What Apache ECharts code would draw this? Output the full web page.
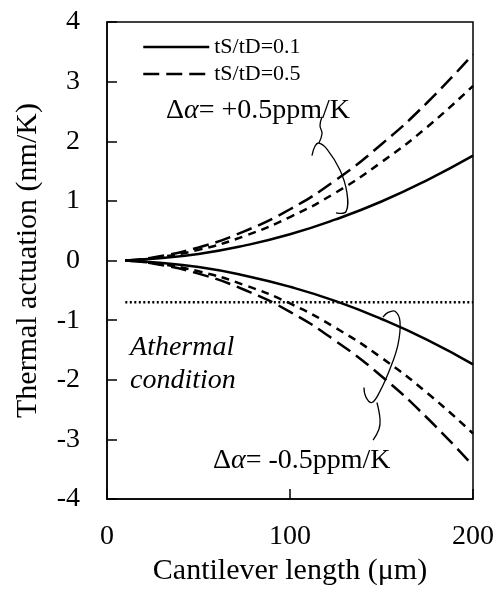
<!DOCTYPE html>
<html>
<head>
<meta charset="utf-8">
<script src="https://cdn.jsdelivr.net/npm/echarts@6/dist/echarts.min.js"></script>
<style>
  html, body { margin: 0; padding: 0; background: #fff; }
  #main { width: 502px; height: 591px; }
</style>
</head>
<body>
<div id="main"></div>
<script>
  // cantilever length (um)
  var lengths = [10, 25, 50, 75, 100, 125, 150, 175, 200];
  // +0.5 ppm/K
  var posThin = [0, 0.03, 0.11, 0.25, 0.44, 0.69, 0.99, 1.35, 1.76];
  var posThick = [0, 0.05, 0.22, 0.49, 0.86, 1.35, 1.95, 2.65, 3.46];
  var posMid = [0, 0.04, 0.18, 0.41, 0.73, 1.14, 1.65, 2.24, 2.93];
  // -0.5 ppm/K
  var negThin = [0, -0.03, -0.11, -0.25, -0.44, -0.68, -0.98, -1.33, -1.74];
  var negThick = [0, -0.05, -0.22, -0.49, -0.86, -1.35, -1.94, -2.64, -3.44];
  var negMid = [0, -0.04, -0.18, -0.41, -0.72, -1.13, -1.63, -2.22, -2.90];
  // athermal condition level
  var athermal = -0.7;
  var athermalRange = [10, 200];

  var serif = "'Liberation Serif', 'Times New Roman', serif";

  function pairs(ys) {
    return lengths.map(function (x, i) { return [x, ys[i]]; });
  }

  function curve(name, ys, dash) {
    return {
      name: name,
      type: 'line',
      data: pairs(ys),
      smooth: true,
      symbol: 'none',
      silent: true,
      lineStyle: { color: '#000', width: 2.5, type: dash },
      itemStyle: { color: '#000' }
    };
  }

  var myChart = echarts.init(document.getElementById('main'));
  var option = {
    animation: false,
    grid: {
      left: 107, right: 29, top: 22, bottom: 91,
      show: true, borderColor: '#000', borderWidth: 1.5
    },
    legend: {
      data: ['tS/tD=0.1', 'tS/tD=0.5'],
      orient: 'vertical',
      left: 137, top: 31,
      itemWidth: 66, itemHeight: 14, itemGap: 5,
      selectedMode: false,
      itemStyle: { opacity: 0 },
      lineStyle: { width: 2.5 },
      textStyle: { fontFamily: serif, fontSize: 22, color: '#000' }
    },
    xAxis: {
      type: 'value', min: 0, max: 200, interval: 100,
      name: 'Cantilever length (μm)',
      nameLocation: 'middle', nameGap: 56,
      nameTextStyle: { fontFamily: serif, fontSize: 30, color: '#000' },
      axisLine: { onZero: false, lineStyle: { color: '#000', width: 1.5 } },
      axisTick: { inside: true, length: 10, lineStyle: { color: '#000', width: 1.5 } },
      axisLabel: { fontFamily: serif, fontSize: 28, color: '#000', margin: 24 },
      splitLine: { show: false }
    },
    yAxis: {
      type: 'value', min: -4, max: 4, interval: 1,
      name: 'Thermal actuation (nm/K)',
      nameLocation: 'middle', nameGap: 64,
      nameTextStyle: { fontFamily: serif, fontSize: 30, color: '#000' },
      axisLine: { onZero: false, lineStyle: { color: '#000', width: 1.5 } },
      axisTick: { inside: true, length: 10, lineStyle: { color: '#000', width: 1.5 } },
      axisLabel: { fontFamily: serif, fontSize: 28, color: '#000', margin: 27 },
      splitLine: { show: false }
    },
    series: [
      curve('tS/tD=0.1', posThin, 'solid'),
      curve('tS/tD=0.5', posThick, [16, 7]),
      curve('mid', posMid, [8, 6]),
      curve('tS/tD=0.1', negThin, 'solid'),
      curve('tS/tD=0.5', negThick, [16, 7]),
      curve('mid', negMid, [8, 6]),
      {
        name: 'athermal',
        type: 'line',
        data: athermalRange.map(function (x) { return [x, athermal]; }),
        symbol: 'none',
        silent: true,
        lineStyle: { color: '#000', width: 2.5, type: [2, 2.5] }
      }
    ]
  };
  myChart.setOption(option);

  // hand-drawn bracket loops, in data coordinates
  var loopUp = [[112.0, 1.76], [113.7, 1.92], [115.8, 1.97], [120.2, 1.87], [127.3, 1.52],
                [131.1, 1.14], [130.6, 0.82], [125.1, 0.80]];
  var stemUp = [[115.8, 1.97], [117.5, 2.13], [116.4, 2.26], [117.5, 2.41]];
  var loopDown = [[150.8, -0.95], [153.6, -0.87], [157.4, -0.85], [160.1, -1.02], [159.0, -1.41],
                  [154.6, -1.82], [149.2, -2.19], [144.8, -2.38], [141.5, -2.29], [140.4, -2.13]];
  var stemDown = [[147.5, -2.38], [149.2, -2.66], [148.6, -2.83], [145.4, -3.01]];

  function px(p) { return myChart.convertToPixel({ gridIndex: 0 }, p); }

  function stroke(points) {
    return {
      type: 'polyline',
      shape: { points: points.map(px), smooth: 0.4 },
      style: { stroke: '#000', lineWidth: 1.3, fill: null },
      silent: true
    };
  }

  function label(pos, rich, text, align) {
    var p = px(pos);
    return {
      type: 'text',
      x: p[0], y: p[1],
      style: {
        text: text,
        fontFamily: serif,
        fontSize: 28,
        fill: '#000',
        align: align || 'left',
        verticalAlign: 'middle',
        rich: rich
      },
      silent: true
    };
  }

  var richDelta = {
    d: { fontFamily: serif, fontSize: 28, fill: '#000' },
    a: { fontFamily: serif, fontSize: 28, fontStyle: 'italic', fill: '#000' }
  };

  myChart.setOption({
    graphic: [
      stroke(loopUp),
      stroke(stemUp),
      stroke(loopDown),
      stroke(stemDown),
      label([32.2, 2.52], richDelta, '{d|Δ}{a|α}{d|= +0.5ppm/K}'),
      label([57.9, -3.36], richDelta, '{d|Δ}{a|α}{d|= -0.5ppm/K}'),
      {
        type: 'text',
        x: px([12.6, -1.19])[0], y: px([12.6, -1.19])[1],
        style: {
          text: 'Athermal\ncondition',
          fontFamily: serif, fontSize: 28, fontStyle: 'italic',
          lineHeight: 33, fill: '#000', verticalAlign: 'top'
        },
        silent: true
      }
    ]
  });
</script>
</body>
</html>
